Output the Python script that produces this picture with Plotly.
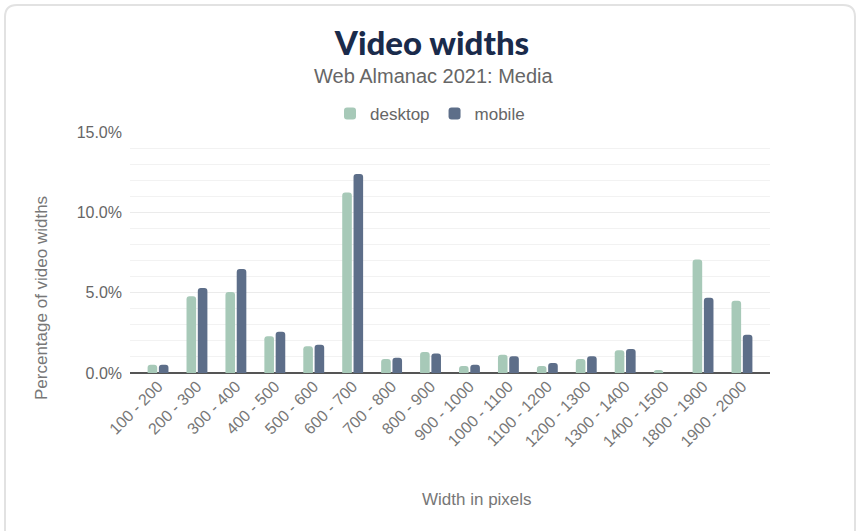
import plotly.graph_objects as go

categories = ["100 - 200", "200 - 300", "300 - 400", "400 - 500", "500 - 600", "600 - 700",
              "700 - 800", "800 - 900", "900 - 1000", "1000 - 1100", "1100 - 1200",
              "1200 - 1300", "1300 - 1400", "1400 - 1500", "1800 - 1900", "1900 - 2000"]
desktop = [0.52, 4.77, 5.04, 2.28, 1.66, 11.24, 0.87, 1.31, 0.44, 1.14, 0.44, 0.87, 1.41, 0.19, 7.07, 4.50]
mobile = [0.52, 5.29, 6.47, 2.57, 1.76, 12.38, 0.95, 1.22, 0.52, 1.04, 0.62, 1.04, 1.49, 0.0, 4.69, 2.38]
y_ticks = [0, 5, 10, 15]
y_tick_labels = ["0.0%", "5.0%", "10.0%", "15.0%"]

W, H = 859, 531
L, R, T, B = 130, 89, 132, 158
pw, ph = W - L - R, H - T - B

def px(x):
    return (x - L) / pw

def py(y):
    return (H - B - y) / ph

fig = go.Figure()
fig.add_trace(go.Bar(name="desktop", x=categories, y=desktop, marker_color="#a7c9b8",
                     marker_line_width=0,
                     hovertemplate="%{x}: %{y:.2f}%<extra>desktop</extra>"))
fig.add_trace(go.Bar(name="mobile", x=categories, y=mobile, marker_color="#5d6e89",
                     marker_line_width=0,
                     hovertemplate="%{x}: %{y:.2f}%<extra>mobile</extra>"))

# rounded card border
x0, x1 = px(5), px(855)
y0, y1 = py(560), py(5)
rx, ry = 12 / pw, 12 / ph
path = (f"M {x0+rx},{y1} L {x1-rx},{y1} Q {x1},{y1} {x1},{y1-ry} "
        f"L {x1},{y0+ry} Q {x1},{y0} {x1-rx},{y0} L {x0+rx},{y0} Q {x0},{y0} {x0},{y0+ry} "
        f"L {x0},{y1-ry} Q {x0},{y1} {x0+rx},{y1} Z")

fig.update_layout(
    width=W, height=H,
    margin=dict(l=L, r=R, t=T, b=B, autoexpand=False),
    paper_bgcolor="white", plot_bgcolor="white",
    font=dict(family="Liberation Sans, Arial, sans-serif", color="#666666", size=16),
    title=dict(text="Video widths", x=432 / W, xref="container", xanchor="center",
               y=1 - 43 / H, yref="container", yanchor="middle",
               font=dict(family="Lato, DejaVu Sans, sans-serif", size=33, color="#1a2b4b", weight=900)),
    barmode="group", bargap=0.42, bargroupgap=0.15, barcornerradius=3,
    legend=dict(orientation="h", x=430 / W, xref="container", xanchor="center",
                y=py(114), yanchor="middle", font=dict(size=17, color="#666666"),
                itemwidth=30, traceorder="normal"),
    showlegend=True,
    xaxis=dict(range=[-0.72, 15.72], tickangle=-45, tickfont=dict(size=16, color="#777777"),
               showgrid=False, showline=False, ticks=""),
    yaxis=dict(range=[0, 15], tickvals=y_ticks, ticktext=y_tick_labels,
               tickfont=dict(size=16, color="#666666"), ticks="", ticklabelstandoff=7,
               showgrid=True, gridcolor="#ebebeb", gridwidth=1,
               minor=dict(dtick=1, showgrid=True, gridcolor="#f2f2f2", gridwidth=1),
               zeroline=True, zerolinecolor="#555555", zerolinewidth=2),
    shapes=[dict(type="path", xref="paper", yref="paper", path=path,
                 line=dict(color="#e2e2e2", width=2), fillcolor="rgba(0,0,0,0)", layer="below")],
    annotations=[
        dict(text="Web Almanac 2021: Media", xref="paper", yref="paper",
             x=px(434), y=py(76), xanchor="center", yanchor="middle", showarrow=False,
             font=dict(size=20, color="#666666")),
        dict(text="Width in pixels", xref="paper", yref="paper",
             x=px(477), y=py(499), xanchor="center", yanchor="middle", showarrow=False,
             font=dict(size=17, color="#777777")),
        dict(text="Percentage of video widths", xref="paper", yref="paper", textangle=-90,
             x=px(41), y=py(298), xanchor="center", yanchor="middle", showarrow=False,
             font=dict(size=17, color="#777777")),
    ],
)

fig.write_html("out.html", config={"displayModeBar": False},
               post_script="document.body.style.margin='0';")
